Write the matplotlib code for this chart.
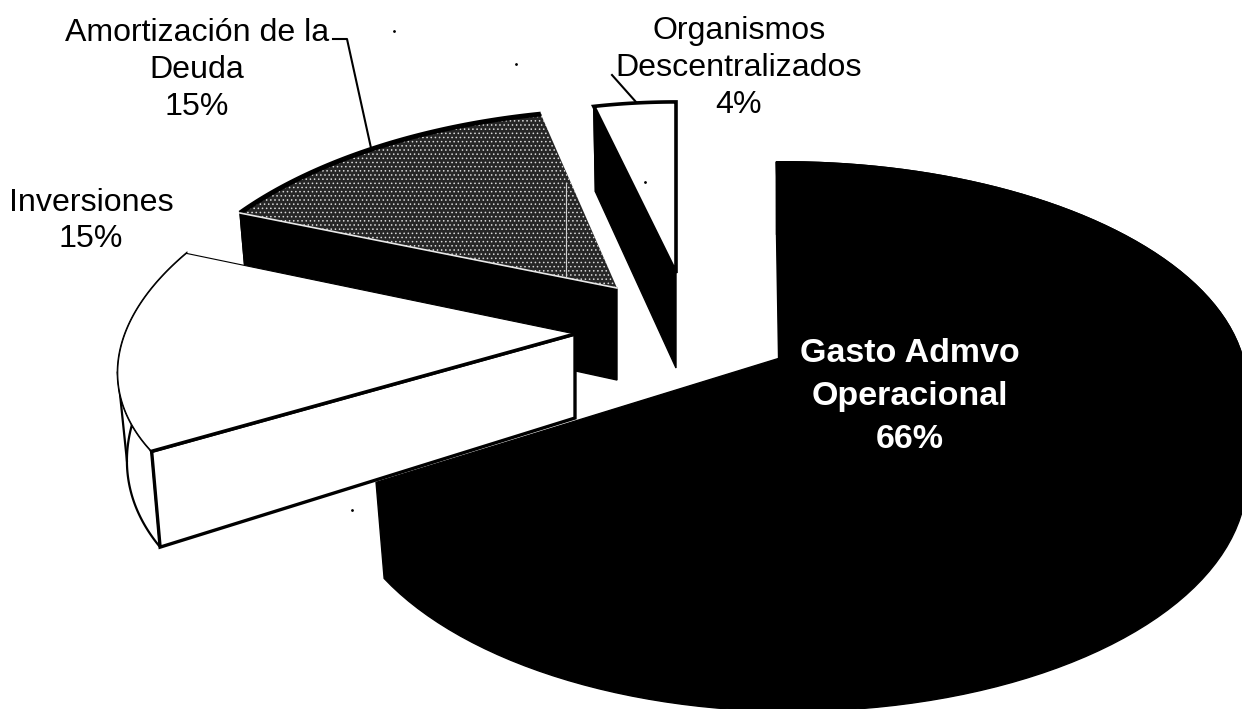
import numpy as np
import matplotlib
matplotlib.use('Agg')
import matplotlib.pyplot as plt
from matplotlib.patches import Polygon

plt.rcParams['font.family'] = ['Liberation Sans', 'DejaVu Sans']
plt.rcParams['hatch.linewidth'] = 0.6

# slices, clockwise from 12 o'clock
names = ['Gasto Admvo\nOperacional', 'Inversiones', 'Amortización de la\nDeuda', 'Organismos\nDescentralizados']
values = [66, 15, 15, 4]

# how each exploded slice sits on the page: apex, projection, depth
apex = [(780, 358), (575, 334), (617, 288), (676, 273)]
proj = [(456, -4, 220, 0.121, -0.015), (450, 81, 219, 0.0, 0.0), (449, 18, 222, 0.244, 0.0), (398, 0, 207, 0.21, 0.0)]
depth = [(88, -15), (84, -22), (92, -15), (95, -10)]

fig = plt.figure(figsize=(12.42, 7.09), dpi=100)
ax = fig.add_axes([0, 0, 1, 1])
ax.set_xlim(0, 1242)
ax.set_ylim(709, 0)
ax.axis('off')


def top_point(i, theta):
    u, v = np.sin(theta), np.cos(theta)
    a, c, b, p, q = proj[i]
    w = 1 / (1 + p * v + q * u)
    return apex[i][0] + (a * u + c * v) * w, apex[i][1] - b * v * w


def bottom_point(i, theta):
    x, y = top_point(i, theta)
    d0, d1 = depth[i]
    # walls lean inwards on the left side only
    return x + 0.02 * max(0, apex[i][0] - x), y + d0 + d1 * np.cos(theta)


def draw_slice(i, t1, t2, side_color, side_lw, cut_lw):
    th = np.linspace(t1, t2, 120)
    top = [top_point(i, t) for t in th]
    bottom = [bottom_point(i, t) for t in th]
    ap_top = apex[i]
    ap_bot = (apex[i][0], apex[i][1] + depth[i][0])
    # outer wall and near cut, the top goes over them afterwards
    ax.add_patch(Polygon(top + bottom[::-1], fc=side_color, ec='black', lw=side_lw, zorder=i * -3 + 10))
    ax.add_patch(Polygon([ap_top, top[0], bottom[0], ap_bot], fc=side_color, ec='black', lw=cut_lw, zorder=i * -3 + 10.5))
    return [ap_top] + top, bottom


angles = np.radians(np.cumsum([0] + values) * 360 / sum(values))

# Gasto Admvo
t, b = draw_slice(0, angles[0], angles[1], 'black', 1, 1)
ax.add_patch(Polygon(t, fc='black', ec='black', lw=1, zorder=11))
# close the gap between top and wall at the right edge
k = int(np.argmax([p[0] for p in t[1:]]))
j = int(np.argmax([p[0] for p in b]))
ax.add_patch(Polygon([apex[0], t[1:][k], b[j]], fc='black', ec='black', lw=1, zorder=11))

# Inversiones
t, b = draw_slice(1, angles[1], angles[2], 'white', 1.6, 2.4)
ax.add_patch(Polygon(t, fc='white', ec='black', lw=0.8, zorder=8))
ax.plot([t[0][0], t[1][0]], [t[0][1], t[1][1]], color='black', lw=2.6, zorder=8.5)
# left silhouette of the wall
k = int(np.argmin([p[0] for p in t[1:]]))
j = int(np.argmin([p[0] for p in b]))
ax.plot([t[1:][k][0], b[j][0]], [t[1:][k][1], b[j][1]], color='black', lw=1.6, zorder=7.5)

# Amortización, speckled top
t, b = draw_slice(2, angles[2], angles[3], 'black', 1, 1)
ax.add_patch(Polygon(t, fc='#262626', ec='#d8d8d8', hatch='....', lw=0, zorder=5))
ax.add_patch(Polygon(t[1:], closed=False, fill=False, ec='black', lw=3.5, zorder=5.5))
ax.plot([t[0][0], t[1][0]], [t[0][1], t[1][1]], color='#e8e8e8', lw=1.2, zorder=5.5)
ax.plot([566, 566], [183, 277], color='#d0d0d0', lw=0.8, zorder=5.5)

# Organismos
t, b = draw_slice(3, angles[3], angles[4], 'black', 1, 1)
ax.add_patch(Polygon(t, fc='white', ec='black', lw=2.6, zorder=2))

# leader lines
ax.plot([333, 347, 371], [39, 39, 148], color='black', lw=1.5, zorder=12)
ax.plot([612, 636], [75, 102], color='black', lw=1.5, zorder=12)

# scan specks
ax.plot([394, 516, 645, 352], [31, 64, 182, 510], ls='none', marker='.', ms=2, color='black', zorder=12)

# labels
fs = 23.1
ax.text(197, 70, f'{names[2]}\n{values[2]}%', ha='center', va='center', fontsize=fs, linespacing=1.29, color='black', zorder=13)
ax.text(739, 68, f'{names[3]}\n{values[3]}%', ha='center', va='center', fontsize=fs, linespacing=1.29, color='black', zorder=13)
ax.text(91, 221, f'{names[1]}\n{values[1]}%', ha='center', va='center', fontsize=fs, linespacing=1.29, color='black', zorder=13)
ax.text(910, 396, f'{names[0]}\n{values[0]}%', ha='center', va='center', fontsize=24.5, linespacing=1.5,
        fontweight='bold', color='white', zorder=13)

fig.savefig('out.png', dpi=100)
